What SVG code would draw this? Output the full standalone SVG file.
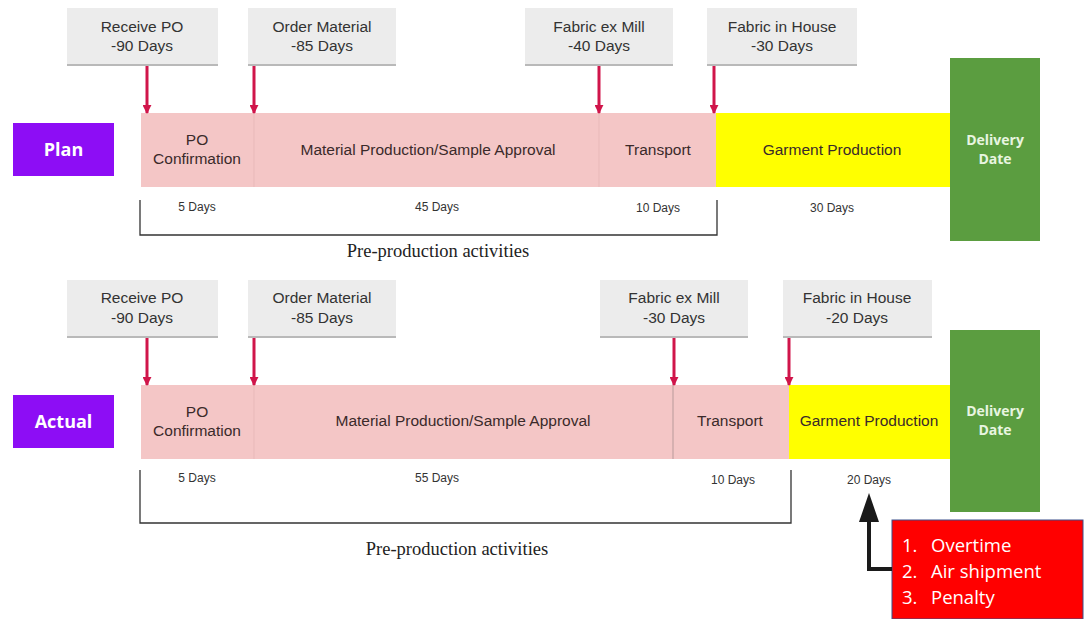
<svg xmlns="http://www.w3.org/2000/svg" width="1084" height="619" viewBox="0 0 1084 619">
  <defs>
    <style>
      .milestone rect.box { fill: #ececec; }
      .milestone rect.edge { fill: #b9b9b9; }
      .lbl { font-family: "Liberation Sans", Arial, sans-serif; font-size: 15.5px; fill: #333; text-anchor: middle; }
      .bar { font-family: "Liberation Sans", Arial, sans-serif; font-size: 15.5px; fill: #3a2a2a; text-anchor: middle; }
      .days { font-family: "Liberation Sans", Arial, sans-serif; font-size: 12px; fill: #333; text-anchor: middle; }
      .tag { font-family: "Open Sans", "Liberation Sans", sans-serif; font-size: 18px; font-weight: bold; fill: #fff; text-anchor: middle; }
      .deliv { font-family: "Open Sans", "Liberation Sans", sans-serif; font-size: 14px; font-weight: bold; fill: #e8f5e0; text-anchor: middle; }
      .pre { font-family: "Liberation Serif", "Times New Roman", serif; font-size: 18.5px; fill: #222; text-anchor: middle; }
      .risk { font-family: "Open Sans", "Liberation Sans", sans-serif; font-size: 18.5px; fill: #fff; }
      .pink { fill: #f4c6c6; }
      .yellow { fill: #ffff00; }
      .green { fill: #5b9d40; }
      .purple { fill: #8d0df5; }
      .bracket { fill: none; stroke: #333; stroke-width: 1.3; }
      .divider { stroke: #d9a9a9; stroke-width: 1; }
      .redarrow { stroke: #d0154a; stroke-width: 3; fill: none; marker-end: url(#redhead); }
    </style>
    <marker id="redhead" viewBox="0 0 10 10" refX="9" refY="5" markerWidth="3" markerHeight="3" orient="auto" markerUnits="strokeWidth">
      <path d="M0,0 L10,5 L0,10 Z" fill="#d0154a"/>
    </marker>
  </defs>
  <rect width="1084" height="619" fill="#ffffff"/>

  <!-- ===== Plan row ===== -->
  <g id="plan-tag">
    <rect class="purple" x="13" y="123" width="101" height="53"/>
    <text class="tag" x="63.5" y="156">Plan</text>
  </g>

  <g id="plan-receive-po" class="milestone">
    <rect class="edge" x="67" y="63" width="151" height="3"/>
    <rect class="box" x="67" y="8" width="151" height="56"/>
    <text class="lbl" x="142" y="32">Receive PO</text>
    <text class="lbl" x="142" y="51">-90 Days</text>
  </g>
  <g id="plan-order-material" class="milestone">
    <rect class="edge" x="248" y="63" width="148" height="3"/>
    <rect class="box" x="248" y="8" width="148" height="56"/>
    <text class="lbl" x="322" y="32">Order Material</text>
    <text class="lbl" x="322" y="51">-85 Days</text>
  </g>
  <g id="plan-fabric-ex-mill" class="milestone">
    <rect class="edge" x="525" y="63" width="148" height="3"/>
    <rect class="box" x="525" y="8" width="148" height="56"/>
    <text class="lbl" x="599" y="32">Fabric ex Mill</text>
    <text class="lbl" x="599" y="51">-40 Days</text>
  </g>
  <g id="plan-fabric-in-house" class="milestone">
    <rect class="edge" x="707" y="63" width="150" height="3"/>
    <rect class="box" x="707" y="8" width="150" height="56"/>
    <text class="lbl" x="782" y="32">Fabric in House</text>
    <text class="lbl" x="782" y="51">-30 Days</text>
  </g>

  <g id="plan-preproduction">
    <rect class="pink" x="141" y="113" width="575" height="74"/>
    <line class="divider" x1="254" y1="113" x2="254" y2="187" opacity="0.4"/>
    <line class="divider" x1="599" y1="113" x2="599" y2="187" opacity="0.4"/>
    <text class="bar" x="197" y="145">PO</text>
    <text class="bar" x="197" y="164">Confirmation</text>
    <text class="bar" x="428" y="155">Material Production/Sample Approval</text>
    <text class="bar" x="658" y="155">Transport</text>
  </g>
  <g id="plan-garment">
    <rect class="yellow" x="716" y="113" width="234" height="74"/>
    <text class="bar" x="832" y="155">Garment Production</text>
  </g>
  <g id="plan-delivery">
    <rect class="green" x="950" y="58" width="90" height="183"/>
    <text class="deliv" x="995" y="145">Delivery</text>
    <text class="deliv" x="995" y="164">Date</text>
  </g>

  <g id="plan-durations">
    <text class="days" x="197" y="211">5 Days</text>
    <text class="days" x="437" y="211">45 Days</text>
    <text class="days" x="658" y="212">10 Days</text>
    <text class="days" x="832" y="212">30 Days</text>
  </g>
  <g id="plan-bracket">
    <path class="bracket" d="M140,200 V235 H717 V200"/>
    <text class="pre" x="438" y="257">Pre-production activities</text>
  </g>

  <!-- ===== Actual row ===== -->
  <g id="actual-tag">
    <rect class="purple" x="13" y="395" width="101" height="53"/>
    <text class="tag" x="63.5" y="428">Actual</text>
  </g>

  <g id="actual-receive-po" class="milestone">
    <rect class="edge" x="67" y="335" width="151" height="3"/>
    <rect class="box" x="67" y="280" width="151" height="56"/>
    <text class="lbl" x="142" y="303">Receive PO</text>
    <text class="lbl" x="142" y="323">-90 Days</text>
  </g>
  <g id="actual-order-material" class="milestone">
    <rect class="edge" x="248" y="335" width="148" height="3"/>
    <rect class="box" x="248" y="280" width="148" height="56"/>
    <text class="lbl" x="322" y="303">Order Material</text>
    <text class="lbl" x="322" y="323">-85 Days</text>
  </g>
  <g id="actual-fabric-ex-mill" class="milestone">
    <rect class="edge" x="600" y="335" width="148" height="3"/>
    <rect class="box" x="600" y="280" width="148" height="56"/>
    <text class="lbl" x="674" y="303">Fabric ex Mill</text>
    <text class="lbl" x="674" y="323">-30 Days</text>
  </g>
  <g id="actual-fabric-in-house" class="milestone">
    <rect class="edge" x="783" y="335" width="149" height="3"/>
    <rect class="box" x="783" y="280" width="149" height="56"/>
    <text class="lbl" x="857" y="303">Fabric in House</text>
    <text class="lbl" x="857" y="323">-20 Days</text>
  </g>

  <g id="actual-preproduction">
    <rect class="pink" x="141" y="385" width="648" height="74"/>
    <line class="divider" x1="254" y1="385" x2="254" y2="459" opacity="0.4"/>
    <line x1="673" y1="385" x2="673" y2="459" stroke="#b89a9a" stroke-width="1"/>
    <text class="bar" x="197" y="417">PO</text>
    <text class="bar" x="197" y="436">Confirmation</text>
    <text class="bar" x="463" y="426">Material Production/Sample Approval</text>
    <text class="bar" x="730" y="426">Transport</text>
  </g>
  <g id="actual-garment">
    <rect class="yellow" x="789" y="385" width="161" height="74"/>
    <text class="bar" x="869" y="426">Garment Production</text>
  </g>
  <g id="actual-delivery">
    <rect class="green" x="950" y="330" width="90" height="182"/>
    <text class="deliv" x="995" y="416">Delivery</text>
    <text class="deliv" x="995" y="435">Date</text>
  </g>

  <g id="actual-durations">
    <text class="days" x="197" y="482">5 Days</text>
    <text class="days" x="437" y="482">55 Days</text>
    <text class="days" x="733" y="484">10 Days</text>
    <text class="days" x="869" y="484">20 Days</text>
  </g>
  <g id="actual-bracket">
    <path class="bracket" d="M140,470 V523 H791 V470"/>
    <text class="pre" x="457" y="555">Pre-production activities</text>
  </g>

  <g id="consequences">
    <rect x="892" y="520" width="191" height="99" fill="#ff0000" stroke="#3b4f8a" stroke-width="1"/>
    <text class="risk" x="902" y="552">1.</text>
    <text class="risk" x="931" y="552">Overtime</text>
    <text class="risk" x="902" y="578">2.</text>
    <text class="risk" x="931" y="578">Air shipment</text>
    <text class="risk" x="902" y="604">3.</text>
    <text class="risk" x="931" y="604">Penalty</text>
  </g>

  <!-- ===== Connectors ===== -->
  <g id="connectors">
    <line class="redarrow" x1="147" y1="66" x2="147" y2="113"/>
    <line class="redarrow" x1="254" y1="66" x2="254" y2="113"/>
    <line class="redarrow" x1="599" y1="66" x2="599" y2="113"/>
    <line class="redarrow" x1="714" y1="66" x2="714" y2="113"/>
    <line class="redarrow" x1="147" y1="338" x2="147" y2="385"/>
    <line class="redarrow" x1="254" y1="338" x2="254" y2="385"/>
    <line class="redarrow" x1="674" y1="338" x2="674" y2="385"/>
    <line class="redarrow" x1="789" y1="338" x2="789" y2="385"/>
    <path d="M892,569 H869 V518" fill="none" stroke="#1a1a1a" stroke-width="4"/>
    <path d="M859,522 L869,493 L879,522 Z" fill="#1a1a1a"/>
  </g>
</svg>
